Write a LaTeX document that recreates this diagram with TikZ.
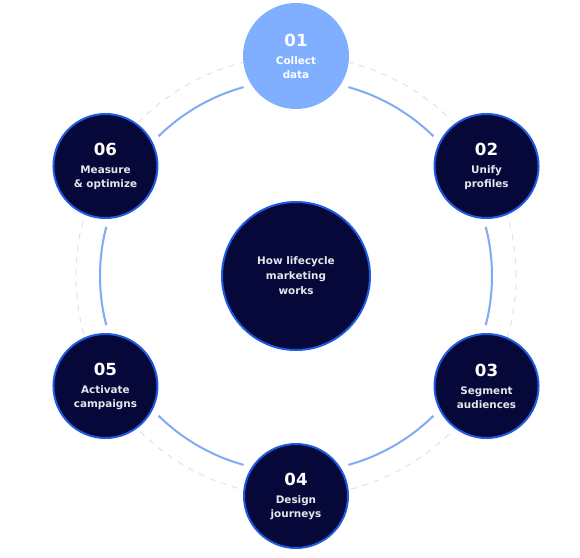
\documentclass[tikz,border=0pt]{standalone}
\usepackage{fontspec}
\setmainfont{DejaVu Sans}
\definecolor{navy}{HTML}{07083A}
\definecolor{rim}{HTML}{1F5BE0}
\definecolor{sky}{HTML}{80AFFF}
\definecolor{linkblue}{HTML}{80AAF5}
\definecolor{guidegray}{HTML}{E2E2E2}
\newcommand\stagenum[1]{{\fontsize{12.5}{12.5}\selectfont\color{white}#1}\\[3pt]}
\begin{document}
\begin{tikzpicture}[x=0.75pt, y=0.75pt,
  stage/.style={circle, fill=navy, draw=rim, line width=1.5pt, minimum size=78pt, inner sep=0pt,
    text=white!90!navy, font=\bfseries\fontsize{7.8}{10.5}\selectfont, align=center},
  hubnode/.style={stage, minimum size=111pt, font=\bfseries\fontsize{7.8}{11.25}\selectfont},
  link/.style={draw=linkblue, line width=1.5pt},
  guide/.style={draw=guidegray, line width=0.75pt, dash pattern=on 4.5pt off 4.5pt}]
\useasboundingbox (-296,-281) rectangle (284,276);
\node[hubnode] (hub) at (0,0) {How lifecycle\\marketing\\works};
\draw[guide] (hub.center) circle[radius=220];
\draw[link] ([shift={(74.5:196)}]hub.center) arc[start angle=74.5, end angle=45.5, radius=196];
\draw[link] ([shift={(14.5:196)}]hub.center) arc[start angle=14.5, end angle=-14.5, radius=196];
\draw[link] ([shift={(-45.5:196)}]hub.center) arc[start angle=-45.5, end angle=-74.5, radius=196];
\draw[link] ([shift={(-105.5:196)}]hub.center) arc[start angle=-105.5, end angle=-134.5, radius=196];
\draw[link] ([shift={(194.5:196)}]hub.center) arc[start angle=194.5, end angle=165.5, radius=196];
\draw[link] ([shift={(134.5:196)}]hub.center) arc[start angle=134.5, end angle=105.5, radius=196];
\node[stage, fill=sky, draw=sky, text=white] (collect) at (90:220) {\stagenum{01}Collect\\data};
\node[stage] (unify) at (30:220) {\stagenum{02}Unify\\profiles};
\node[stage] (segment) at (-30:220) {\stagenum{03}Segment\\audiences};
\node[stage] (design) at (-90:220) {\stagenum{04}Design\\journeys};
\node[stage] (activate) at (-150:220) {\stagenum{05}Activate\\campaigns};
\node[stage] (measure) at (150:220) {\stagenum{06}Measure\\\& optimize};
\end{tikzpicture}
\end{document}
